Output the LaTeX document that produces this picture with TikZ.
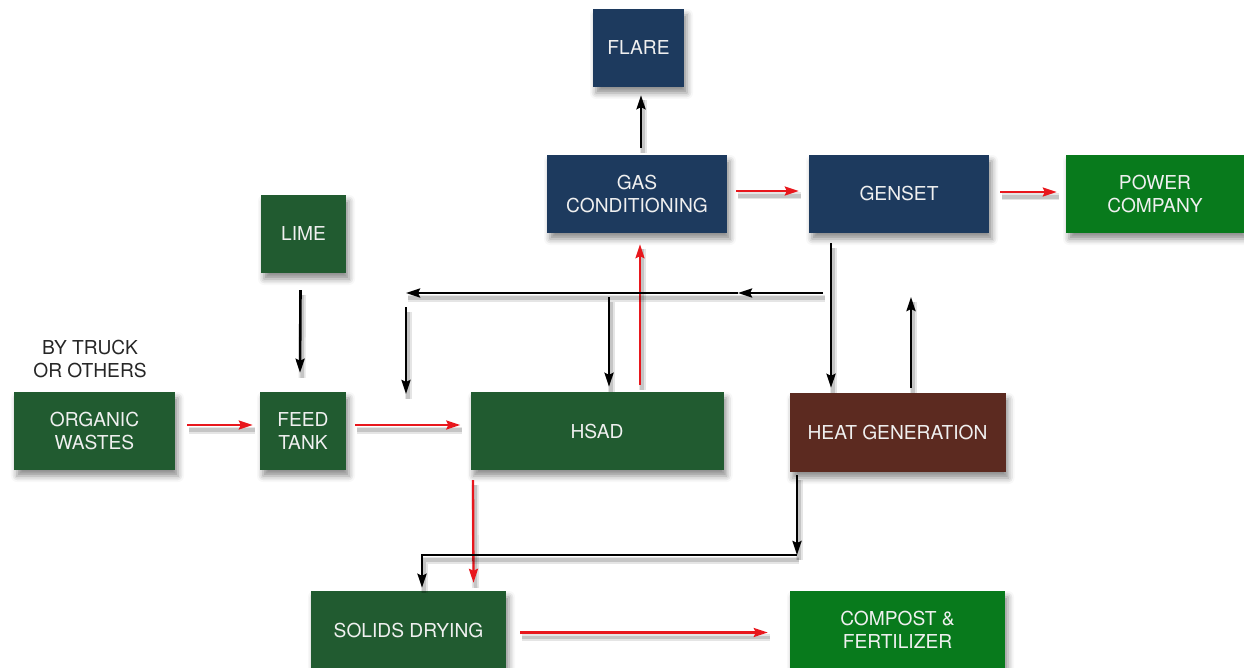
\documentclass[tikz,border=0pt]{standalone}
\usepackage{fontspec}
\setmainfont{TeX Gyre Heros}
\usetikzlibrary{arrows.meta,shadows.blur}
\definecolor{navy}{HTML}{1D3A5E}
\definecolor{dkgreen}{HTML}{215B30}
\definecolor{brgreen}{HTML}{087A1C}
\definecolor{brown}{HTML}{5C2A20}
\definecolor{flowred}{HTML}{E8171D}
\begin{document}
\begin{tikzpicture}[x=1pt,y=-1pt,
  box/.style={rectangle, draw=none, text=white!94!black, align=center,
    font=\fontsize{19.2}{23.5}\selectfont, inner sep=0pt,
    blur shadow={shadow xshift=3pt, shadow yshift=-6pt, shadow blur radius=6pt, shadow opacity=45}},
  shade line/.style={preaction={draw=black, opacity=0.10, line width=7pt, -,
      transform canvas={xshift=2pt,yshift=-5pt}},
    preaction={draw=black, opacity=0.14, line width=3.5pt, -,
      transform canvas={xshift=2pt,yshift=-5pt}}},
  flow/.style={shade line, draw=flowred, line width=2.3pt, -{Stealth[length=14pt,width=9pt,inset=2pt]}},
  ret/.style={shade line, draw=black, line width=2.6pt, -{Stealth[length=14pt,width=9pt,inset=2pt]}}]
\useasboundingbox (0,0) rectangle (1244,668);

% process boxes
\node[box, fill=navy, minimum width=91pt, minimum height=78pt] (flare) at (638.5,48) {FLARE};
\node[box, fill=navy, minimum width=180pt, minimum height=78pt] (gas) at (637,194) {GAS\\CONDITIONING};
\node[box, fill=navy, minimum width=180pt, minimum height=78pt] (genset) at (899,194) {GENSET};
\node[box, fill=brgreen, minimum width=178pt, minimum height=78pt] (power) at (1155,194) {POWER\\COMPANY};
\node[box, fill=dkgreen, minimum width=85pt, minimum height=78pt] (lime) at (303.5,234) {LIME};
\node[box, fill=dkgreen, minimum width=161pt, minimum height=78pt] (organic) at (94.5,431) {ORGANIC\\WASTES};
\node[box, fill=dkgreen, minimum width=86pt, minimum height=78pt] (feed) at (303,431) {FEED\\TANK};
\node[box, fill=dkgreen, minimum width=253pt, minimum height=78pt] (hsad) at (597,431) {HSAD};
\node[box, fill=brown, minimum width=216pt, minimum height=79pt] (heat) at (897.5,432.5) {HEAT GENERATION};
\node[box, fill=dkgreen, minimum width=195pt, minimum height=78pt] (solids) at (408.5,630) {SOLIDS DRYING};
\node[box, fill=brgreen, minimum width=215pt, minimum height=78pt] (compost) at (897.5,630) {COMPOST \&\\FERTILIZER};

\node[align=center, font=\fontsize{19.2}{23.5}\selectfont, text=black!85] (truck) at (90,359) {BY TRUCK\\OR OTHERS};

% free ends of the recirculation lines
\coordinate (recA) at (823,293);
\coordinate (recM) at (738,293);
\coordinate (recB) at (406,293);
\coordinate (recC) at (609,297);
\coordinate (recD) at (406,307);
\coordinate (recE) at (406,394);
\coordinate (heatUp) at (911,297);
\coordinate (heatCorner) at (797,555);
\coordinate (heatDrop) at (797,475);

% main material and gas flows
\draw[flow] ([xshift=12pt,yshift=6pt]organic.east) -- ([xshift=-7pt,yshift=6pt]feed.west);
\draw[flow] ([xshift=9pt,yshift=6pt]feed.east) -- ([xshift=-10pt,yshift=6pt]hsad.west);
\draw[flow] ([xshift=43pt,yshift=7pt]hsad.north) -- ([xshift=3pt,yshift=-11pt]gas.south);
\draw[flow] ([xshift=9pt,yshift=3pt]gas.east) -- ([xshift=-10pt,yshift=3pt]genset.west);
\draw[flow] ([xshift=11pt,yshift=2pt]genset.east) -- ([xshift=-9pt,yshift=2pt]power.west);
\draw[flow] ([xshift=-124pt,yshift=-10pt]hsad.south) -- ([xshift=65pt,yshift=8pt]solids.north);
\draw[flow] ([xshift=14pt,yshift=-2.5pt]solids.east) -- ([xshift=-22pt,yshift=-2.5pt]compost.west);

% lime, flare and heat connections
\draw[ret] ([xshift=-3pt,yshift=-17pt]lime.south) -- ([xshift=-3pt,yshift=19pt]feed.north);
\draw[ret] ([xshift=4pt,yshift=7pt]gas.north) -- ([xshift=2.5pt,yshift=-8pt]flare.south);
\draw[ret] ([xshift=-68pt,yshift=-10pt]genset.south) -- ([xshift=-66.5pt,yshift=5pt]heat.north);
\draw[ret] ([xshift=13.5pt,yshift=5pt]heat.north) -- (heatUp);
\draw[ret] (recA) -- (recM);
\draw[ret] (recM) -- (recB);
\draw[ret] (recC) -- ([xshift=12pt,yshift=5pt]hsad.north);
\draw[ret] (recD) -- (recE);
\draw[ret] (heatDrop) -- (heatCorner);
\draw[ret] (heatCorner) -| ([xshift=13.5pt,yshift=3pt]solids.north);
\end{tikzpicture}
\end{document}
